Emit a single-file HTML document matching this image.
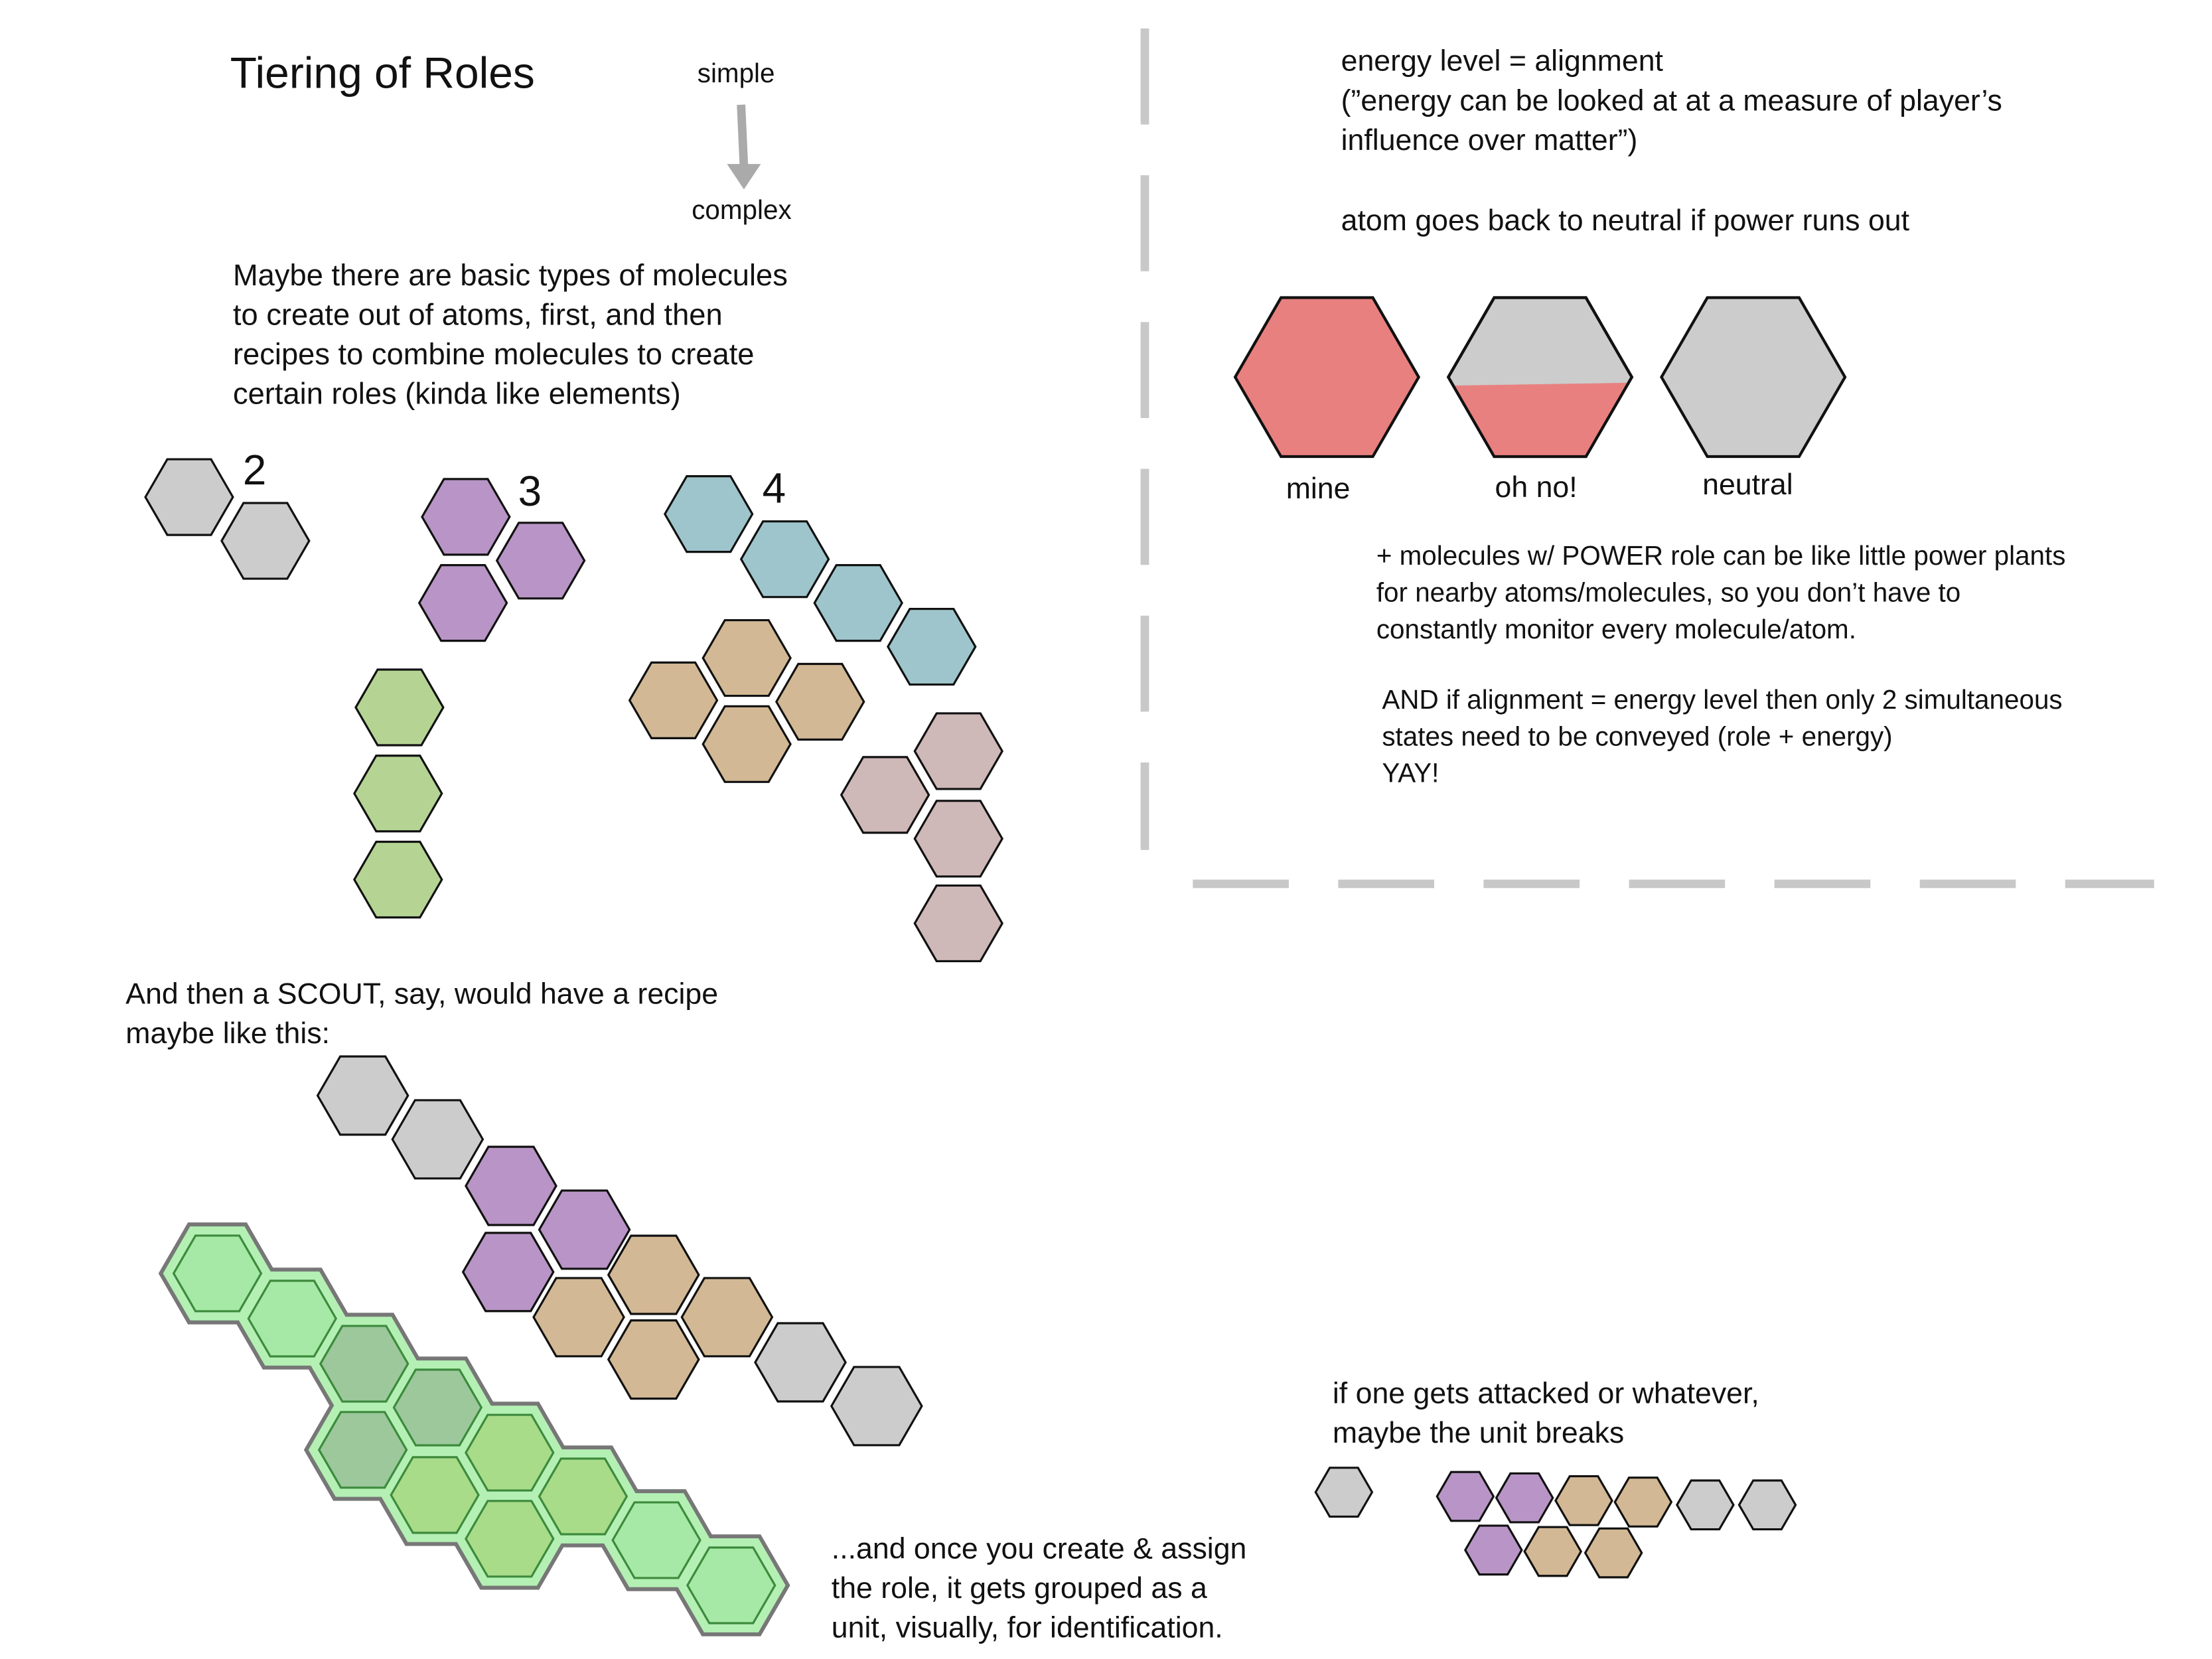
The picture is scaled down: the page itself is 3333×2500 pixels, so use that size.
<!DOCTYPE html>
<html><head><meta charset="utf-8"><style>
html,body{margin:0;padding:0;background:#fff;}
svg{display:block;}
text{font-family:"Liberation Sans",sans-serif;fill:#111;}
</style></head><body>
<svg id="s" width="3333" height="2500" viewBox="0 0 1567 1175" xmlns="http://www.w3.org/2000/svg">
<rect width="1567" height="1175" fill="#fff"/>
<g id="halo"></g>
<g id="hexes"></g>
<g><line x1="811" y1="20" x2="811" y2="602" stroke="#c8c8c8" stroke-width="6" stroke-dasharray="68 36"/></g>
<g><line x1="845" y1="626" x2="1526" y2="626" stroke="#c8c8c8" stroke-width="6" stroke-dasharray="68 35"/></g>
<g>
<line x1="525" y1="74" x2="527" y2="118" stroke="#aaa" stroke-width="6"/>
<polygon points="515,116 539,116 527,134" fill="#aaa"/></g>
<text x="163" y="62" font-size="31">Tiering of Roles</text>
<text x="494" y="58" font-size="19">simple</text>
<text x="490" y="155" font-size="19">complex</text>
<g>
<text x="165" y="202" font-size="21.3">Maybe there are basic types of molecules</text>
<text x="165" y="230" font-size="21.3">to create out of atoms, first, and then</text>
<text x="165" y="258" font-size="21.3">recipes to combine molecules to create</text>
<text x="165" y="286" font-size="21.3">certain roles (kinda like elements)</text></g>
<text x="172" y="343" font-size="30">2</text>
<text x="367" y="358" font-size="30">3</text>
<text x="540" y="356" font-size="30">4</text>
<text x="89" y="711" font-size="21">And then a SCOUT, say, would have a recipe</text>
<text x="89" y="739" font-size="21">maybe like this:</text>
<g>
<text x="589" y="1104" font-size="21">...and once you create &amp; assign</text>
<text x="589" y="1132" font-size="21">the role, it gets grouped as a</text>
<text x="589" y="1160" font-size="21">unit, visually, for identification.</text></g>
<g>
<text x="950" y="50" font-size="21">energy level = alignment</text>
<text x="950" y="78" font-size="21">(”energy can be looked at at a measure of player’s</text>
<text x="950" y="106" font-size="21">influence over matter”)</text>
<text x="950" y="163" font-size="21">atom goes back to neutral if power runs out</text></g>
<text x="911" y="353" font-size="21">mine</text>
<text x="1059" y="352" font-size="21">oh no!</text>
<text x="1206" y="350" font-size="21">neutral</text>
<g>
<text x="975" y="400" font-size="19">+ molecules w/ POWER role can be like little power plants</text>
<text x="975" y="426" font-size="19">for nearby atoms/molecules, so you don’t have to</text>
<text x="975" y="452" font-size="19">constantly monitor every molecule/atom.</text>
<text x="979" y="502" font-size="19">AND if alignment = energy level then only 2 simultaneous</text>
<text x="979" y="528" font-size="19">states need to be conveyed (role + energy)</text>
<text x="979" y="554" font-size="19">YAY!</text></g>
<g>
<text x="944" y="994" font-size="21">if one gets attacked or whatever,</text>
<text x="944" y="1022" font-size="21">maybe the unit breaks</text></g>
</svg>
<script>
const G='#cccccc',P='#b895c6',T='#9ec5cc',N='#d2b894',K='#cfb8b8',V='#b5d494',R='#e98080';
const hexX=[134,188,330,383,328,502,556,608,660,529,477,581,529,679,627,679,679,283,282,282,
 257,310,362,414,360,463,410,515,463,567,621,
 940,1242,
 952,1038,1080,1122,1164,1208,1252,1058,1100,1143];
const hexY=[352,383,366,397,427,364,396,427,458,466,496,497,527,532,563,594,654,501,562,623,
 776,807,840,871,901,903,933,933,963,965,996,
 267,267,
 1057,1060,1061,1063,1064,1066,1066,1098,1099,1100];
const hexR=[31,31,31,31,31,31,31,31,31,31,31,31,31,31,31,31,31,31,31,31,
 32,32,32,32,32,32,32,32,32,32,32,
 65,65,
 20,20,20,20,20,20,20,20,20,20];
const hexC=[G,G,P,P,P,T,T,T,T,N,N,N,N,K,K,K,K,V,V,V,
 G,G,P,P,P,N,N,N,N,G,G,
 R,G,
 G,P,P,N,N,G,G,P,N,N];
const unitX=[154,207,258,310,257,361,308,413,361,465,518];
const unitY=[902,934,966,997,1027,1029,1059,1060,1090,1091,1123];
const unitC=['#a6e8a6','#a6e8a6','#9cc89c','#9cc89c','#9cc89c','#a8dc88','#a8dc88','#a8dc88','#a8dc88','#a6e8a6','#a6e8a6'];
const NS='http://www.w3.org/2000/svg';
function pts(cx,cy,r){let a=[];for(let i=0;i<6;i++){const t=Math.PI/3*i;a.push((cx+r*Math.cos(t)).toFixed(1)+','+(cy+r*Math.sin(t)).toFixed(1));}return a.join(' ');}
function poly(parent,cx,cy,r,fill,stroke,sw){const p=document.createElementNS(NS,'polygon');p.setAttribute('points',pts(cx,cy,r));p.setAttribute('fill',fill);p.setAttribute('stroke',stroke);p.setAttribute('stroke-width',sw);parent.appendChild(p);return p;}
const hg=document.getElementById('hexes'),halo=document.getElementById('halo');
for(let i=0;i<hexX.length;i++){
 const p=poly(hg,hexX[i],hexY[i],hexR[i],hexC[i],'#111',hexR[i]>40?2:1.5);
 
 
}
{const cx=1091,cy=267,r=65,h=r*Math.sqrt(3)/2;
 const top=poly(hg,cx,cy,r,G,'#111',2);
 
 
 const yl=cy+6,yr=cy+4;
 const xl=cx-r+(yl-cy)/h*(r/2),xr=cx+r-(yr-cy)/h*(r/2);
 const f=document.createElementNS(NS,'polygon');
 f.setAttribute('points',`${xl},${yl} ${xr},${yr} ${cx+r/2},${cy+h} ${cx-r/2},${cy+h}`);
 f.setAttribute('fill',R);f.setAttribute('stroke','none');
 
 
 hg.appendChild(f);
 const o=poly(hg,cx,cy,r,'none','#111',2);
 
 }
for(let i=0;i<unitX.length;i++){const p=poly(halo,unitX[i],unitY[i],40,'#b4f0b4','#777',3);
 
 }
for(let i=0;i<unitX.length;i++){poly(halo,unitX[i],unitY[i],38.5,'#b4f0b4','none',0);}
for(let i=0;i<unitX.length;i++){const p=poly(halo,unitX[i],unitY[i],31,unitC[i],'#3d8a3d',1.5);
 
 }
</script>
</body></html>
